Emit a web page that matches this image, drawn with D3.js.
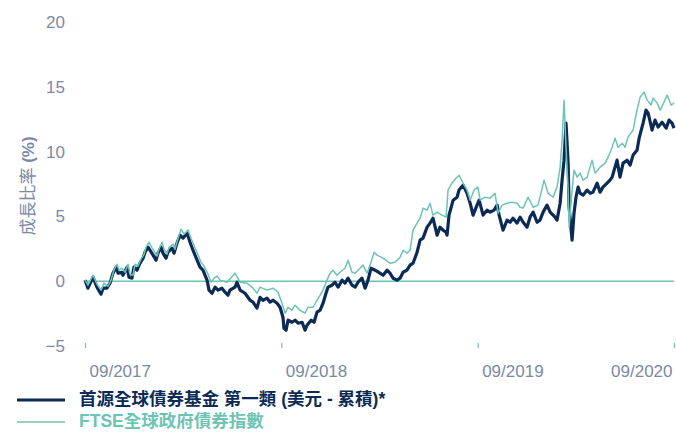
<!DOCTYPE html>
<html lang="zh-Hant">
<head>
<meta charset="utf-8">
<script src="https://d3js.org/d3.v7.min.js"></script>
<style>
  body { margin: 0; background: #fff; }
  text { font-family: "Liberation Sans", Arial, "Noto Sans CJK TC", sans-serif; }
</style>
</head>
<body>
<script>
// months since 09/2017 and cumulative growth (%)
const fundT = [0,0.18,0.49,0.73,0.98,1.10,1.34,1.53,1.71,1.90,2.02,2.26,2.32,2.57,2.69,2.87,2.99,3.18,3.36,3.55,3.67,3.85,3.97,4.16,4.34,4.46,4.65,4.77,4.95,5.07,5.32,5.44,5.62,5.81,5.99,6.24,6.42,6.60,6.85,7.03,7.21,7.46,7.58,7.76,7.95,8.13,8.37,8.56,8.74,8.86,9.17,9.29,9.48,9.78,10.09,10.27,10.51,10.70,10.88,11.13,11.31,11.49,11.74,11.92,12.10,12.16,12.29,12.41,12.65,12.84,13.02,13.27,13.45,13.57,13.82,14.00,14.18,14.37,14.55,14.73,14.85,15.10,15.28,15.47,15.71,15.89,16.08,16.32,16.51,16.69,16.93,17.12,17.30,17.48,17.73,18.03,18.22,18.46,18.64,18.83,19.07,19.26,19.44,19.68,19.87,20.05,20.30,20.48,20.66,20.91,21.09,21.27,21.52,21.70,21.88,22.07,22.13,22.25,22.50,22.74,22.86,23.11,23.35,23.54,23.72,23.96,24.09,24.33,24.57,24.76,25.00,25.19,25.31,25.55,25.80,25.98,26.16,26.41,26.59,26.78,27.02,27.20,27.39,27.63,27.81,28.00,28.24,28.43,28.61,28.73,28.85,29.04,29.16,29.28,29.40,29.53,29.59,29.77,29.89,30.01,30.14,30.26,30.44,30.69,30.87,31.05,31.30,31.48,31.66,31.91,32.09,32.22,32.34,32.52,32.70,32.89,33.13,33.32,33.50,33.74,33.87,34.11,34.29,34.42,34.66,34.84,35.03,35.27,35.52,35.70,35.88,36];
const fundV = [0.08,-0.54,0.31,-0.46,-1.00,-0.54,-0.54,-0.15,0.62,1.08,0.62,0.69,0.46,1.08,0.31,0.23,1.08,0.85,1.39,1.78,2.24,2.63,2.39,2.01,1.62,2.16,2.63,2.16,1.78,2.24,2.55,2.16,2.93,3.55,3.32,3.71,3.01,2.39,1.62,1.08,0.85,0.08,-0.69,-0.93,-0.46,-0.69,-0.54,-0.85,-1.08,-0.69,-0.46,-0.08,-0.69,-0.93,-1.47,-1.62,-2.08,-1.24,-1.47,-1.31,-1.62,-1.47,-1.70,-2.01,-2.78,-3.63,-3.78,-3.01,-3.17,-3.01,-3.24,-3.17,-3.78,-3.40,-3.01,-3.17,-2.39,-2.24,-1.70,-0.93,-0.46,-0.31,-0.08,-0.46,0.08,-0.15,0.23,-0.31,-0.46,-0.08,0.23,-0.54,0.08,1.00,0.85,0.62,0.46,0.85,0.62,0.23,0.08,0.23,0.69,0.85,1.24,1.39,2.24,3.17,3.32,4.17,4.48,4.86,3.55,4.17,3.94,3.78,3.55,5.10,6.25,6.48,7.03,7.41,6.79,6.02,5.10,5.87,6.25,5.10,5.48,5.33,5.48,5.87,5.10,3.94,4.71,4.55,4.86,4.48,4.94,4.55,4.17,4.94,5.33,4.55,4.71,5.33,5.87,5.33,5.10,4.94,4.71,6.02,7.80,9.34,12.20,9.11,5.71,3.17,5.25,6.48,7.26,6.79,6.64,7.03,6.79,6.87,7.57,6.87,7.26,7.57,7.80,8.03,8.57,9.34,8.03,9.11,9.34,8.96,9.73,10.11,11.04,12.20,13.20,12.97,11.66,12.43,11.89,12.27,11.81,12.43,12.20,11.81,11.89];

const benchT = [0,0.18,0.49,0.73,0.98,1.16,1.41,1.59,1.77,1.96,2.08,2.26,2.45,2.63,2.75,2.93,3.06,3.24,3.42,3.61,3.73,3.91,4.03,4.22,4.40,4.52,4.71,4.83,5.01,5.13,5.38,5.50,5.69,5.87,6.05,6.30,6.48,6.66,6.91,7.09,7.27,7.52,7.70,7.89,8.07,8.25,8.68,9.17,9.48,9.90,10.27,10.51,10.70,11.13,11.49,11.80,12.04,12.23,12.41,12.65,12.84,13.14,13.45,13.63,13.94,14.18,14.37,14.55,14.79,14.98,15.16,15.40,15.59,15.89,16.08,16.32,16.51,16.81,16.99,17.24,17.42,17.67,17.85,18.22,18.64,18.95,19.26,19.44,19.68,19.87,20.05,20.30,20.48,20.66,20.91,21.09,21.27,21.52,21.82,22.07,22.19,22.43,22.68,22.86,23.11,23.35,23.54,23.78,24.02,24.15,24.45,24.76,25.06,25.25,25.49,25.80,26.10,26.41,26.59,26.78,27.08,27.39,27.69,28.06,28.30,28.61,28.85,29.04,29.16,29.28,29.40,29.53,29.59,29.77,29.89,30.08,30.26,30.44,30.69,30.99,31.18,31.48,31.79,31.97,32.22,32.40,32.58,32.83,33.01,33.19,33.50,33.74,33.93,34.17,34.36,34.60,34.72,34.97,35.15,35.39,35.58,35.82,36];
const benchV = [0.08,-0.31,0.46,-0.23,-0.69,-0.15,-0.39,0.08,0.85,1.31,0.85,1.00,0.69,1.31,0.54,0.46,1.31,1.16,1.70,2.08,2.62,3.01,2.70,2.32,1.93,2.47,3.01,2.47,2.08,2.62,2.86,2.47,3.32,4.01,3.63,3.94,3.32,2.78,2.01,1.47,1.16,0.54,-0.08,0.23,0.39,0.08,-0.08,0.62,-0.08,-0.15,-0.54,-0.93,-0.46,-0.69,-0.54,-0.85,-1.70,-2.47,-2.01,-2.24,-1.85,-2.24,-2.47,-2.01,-2.01,-1.47,-1.08,-0.69,0.08,0.62,0.85,0.46,0.69,1.00,1.62,0.69,0.62,1.00,1.24,0.62,1.24,2.24,2.01,1.78,1.39,1.47,1.85,2.39,2.16,2.39,3.94,4.48,4.86,5.64,5.48,6.02,5.10,5.33,5.10,4.94,7.03,7.57,7.95,8.18,7.57,7.03,6.25,7.03,7.26,6.25,6.48,6.41,6.79,5.25,5.87,6.02,6.10,6.02,5.71,5.64,6.48,5.71,5.87,7.80,6.79,6.48,7.26,8.80,10.89,13.97,10.34,7.03,4.17,7.03,8.57,8.03,8.34,7.80,8.03,9.34,8.34,8.80,9.11,9.57,10.34,11.04,10.34,10.65,10.34,11.12,11.66,13.20,14.20,14.59,13.97,13.59,14.13,13.74,13.20,13.82,14.36,13.59,13.74];

const yTicks = [-5, 0, 5, 10, 15, 20];
const xTickMonths = [0, 12, 24, 36];
const xTickLabels = ["09/2017", "09/2018", "09/2019", "09/2020"];
const seriesNames = ["首源全球債券基金 第一類 (美元 - 累積)*", "FTSE全球政府債券指數"];

const navy = "#0b2b56", teal = "#6dc4b4", grey = "#7b89a6";
const W = 676, H = 432;

const svg = d3.select("body").append("svg")
  .attr("width", W).attr("height", H);

const x = d3.scaleLinear().domain([0, 36]).range([85, 674]);
const y = d3.scaleLinear().domain([-5, 20]).range([346, 22]);

// y axis labels only
const yAxis = svg.append("g")
  .attr("transform", "translate(65,0)")
  .call(d3.axisLeft(y).tickValues(yTicks).tickSize(0).tickPadding(0));
yAxis.select(".domain").remove();
yAxis.selectAll("text")
  .attr("fill", grey).style("font-size", "17px");

// x axis: short ticks at the -5 level, labels below
const xAxis = svg.append("g")
  .attr("transform", `translate(0,${y(-5) - 3})`)
  .call(d3.axisBottom(x).tickValues(xTickMonths).tickSize(5)
    .tickFormat((d, i) => xTickLabels[i]));
xAxis.select(".domain").remove();
xAxis.selectAll("line").attr("stroke", teal).attr("stroke-width", 1.2);
xAxis.selectAll("text")
  .attr("fill", grey).style("font-size", "17px")
  .attr("y", 22)
  .attr("text-anchor", (d, i) => i === xTickMonths.length - 1 ? "end" : "start")
  .attr("x", (d, i) => i === xTickMonths.length - 1 ? -2 : 4);

// y title
svg.append("text")
  .attr("transform", `translate(34,${(y(-5) + y(20)) / 2 + 2}) rotate(-90)`)
  .attr("text-anchor", "middle")
  .attr("fill", grey)
  .style("font-size", "17px")
  .call(t => {
    t.append("tspan").text("成長比率 ");
    t.append("tspan").attr("font-weight", "bold").text("(%)");
  });

// zero line
svg.append("line")
  .attr("x1", x(0)).attr("x2", x(36))
  .attr("y1", y(0)).attr("y2", y(0))
  .attr("stroke", teal).attr("stroke-width", 1.5);

const fund = fundT.map((t, i) => ({ t: t, v: fundV[i] }));
const bench = benchT.map((t, i) => ({ t: t, v: benchV[i] }));
const line = d3.line().x(d => x(d.t)).y(d => y(d.v));

svg.append("path").datum(fund)
  .attr("fill", "none").attr("stroke", navy)
  .attr("stroke-width", 3.2).attr("stroke-linejoin", "round")
  .attr("d", line);

svg.append("path").datum(bench)
  .attr("fill", "none").attr("stroke", teal)
  .attr("stroke-width", 1.5).attr("stroke-linejoin", "round")
  .attr("d", line);

// legend
const legend = [
  { name: seriesNames[0], color: navy, w: 3, y: 400 },
  { name: seriesNames[1], color: teal, w: 1.5, y: 422 }
];
legend.forEach(l => {
  svg.append("line")
    .attr("x1", 17).attr("x2", 65).attr("y1", l.y).attr("y2", l.y)
    .attr("stroke", l.color).attr("stroke-width", l.w);
  svg.append("text")
    .attr("x", 79).attr("y", l.y + 5)
    .attr("fill", l.color)
    .attr("font-weight", "bold")
    .style("font-size", "17.5px")
    .text(l.name);
});
</script>
</body>
</html>
